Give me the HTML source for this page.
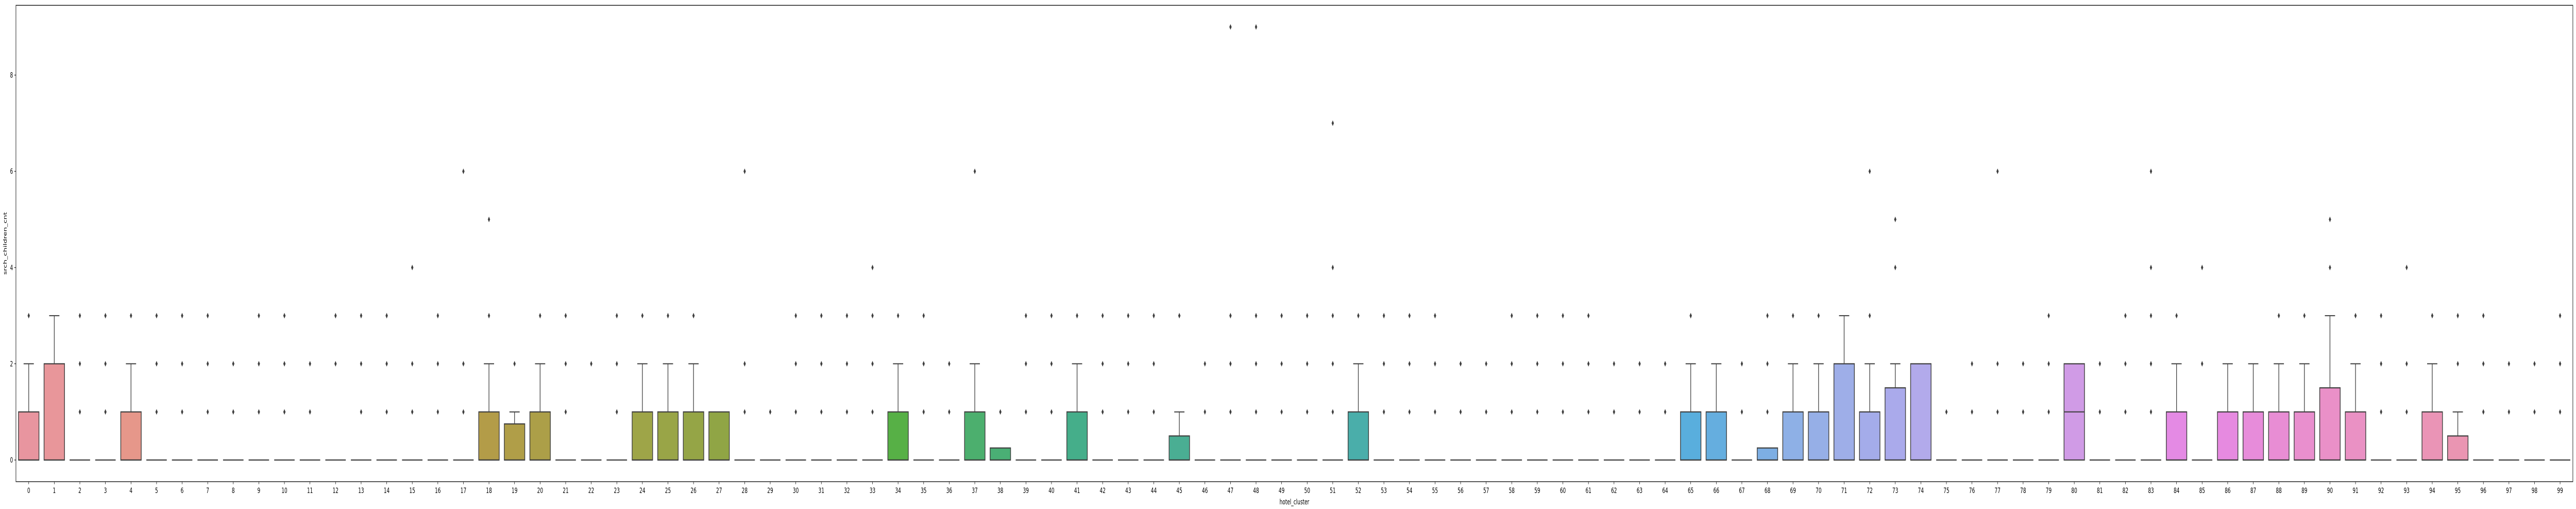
<!DOCTYPE html>
<html>
<head>
<meta charset="utf-8">
<meta name="viewport" content="width=7808, initial-scale=1">
<style>
html,body{margin:0;padding:0;background:#fff;width:100%;height:100%;overflow:hidden;}
svg{display:block;width:100vw;height:100vh;}
text{font-family:"DejaVu Sans","Liberation Sans",sans-serif;}
</style>
</head>
<body>
<svg id="chart" viewBox="0 0 7808 987" preserveAspectRatio="none" xmlns="http://www.w3.org/2000/svg"></svg>
<script>
const categories = Array.from({length:100}, (_, i) => String(i));
const q1Values = new Array(100).fill(0);
const q3Values = [1,2,0,0,1,0,0,0,0,0, 0,0,0,0,0,0,0,0,1,0.75, 1,0,0,0,1,1,1,1,0,0,
  0,0,0,0,1,0,0,1,0.25,0, 0,1,0,0,0,0.5,0,0,0,0, 0,0,1,0,0,0,0,0,0,0,
  0,0,0,0,0,1,1,0,0.25,1, 1,2,1,1.5,2,0,0,0,0,0, 2,0,0,0,1,0,1,1,1,1,
  1.5,1,0,0,1,0.5,0,0,0,0];
const medianValues = new Array(100).fill(0);
medianValues[80] = 1;
const whiskerHigh = [2,3,0,0,2,0,0,0,0,0, 0,0,0,0,0,0,0,0,2,1, 2,0,0,0,2,2,2,1,0,0,
  0,0,0,0,2,0,0,2,0.25,0, 0,2,0,0,0,1,0,0,0,0, 0,0,2,0,0,0,0,0,0,0,
  0,0,0,0,0,2,2,0,0.25,2, 2,3,2,2,2,0,0,0,0,0, 2,0,0,0,2,0,2,2,2,2,
  3,2,0,0,2,1,0,0,0,0];
const fliers = [[3],[],[1,2,3],[1,2,3],[3],[1,2,3],[1,2,3],[1,2,3],[1,2],[1,2,3],
  [1,2,3],[1,2],[2,3],[1,2,3],[1,2,3],[1,2,4],[1,2,3],[1,2,6],[3,5],[2],
  [3],[1,2,3],[2],[1,2,3],[3],[3],[3],[],[1,2,6],[1],
  [1,2,3],[1,2,3],[1,2,3],[1,2,3,4],[3],[1,2,3],[1,2],[6],[1],[1,2,3],
  [1,2,3],[3],[1,2,3],[1,2,3],[1,2,3],[3],[1,2],[1,2,3,9],[1,2,3,9],[1,2,3],
  [1,2,3],[1,2,3,4,7],[3],[1,2,3],[1,2,3],[1,2,3],[1,2],[1,2],[1,2,3],[1,2,3],
  [1,2,3],[1,2,3],[1,2],[1,2],[1,2],[3],[],[1,2],[1,2,3],[3],
  [3],[],[3,6],[4,5],[],[1],[1,2],[1,2,6],[1,2],[1,2,3],
  [],[1,2],[1,2,3],[1,2,3,4,6],[3],[2,4],[],[],[3],[3],
  [4,5],[3],[1,2,3],[1,2,4],[3],[2,3],[1,2,3],[1,2],[1,2],[1,2,3]];
const yTicks = [0,2,4,6,8];

const NS = "http://www.w3.org/2000/svg";
const svg = document.getElementById('chart');
const L = 48.3, R = 7798.5, T = 10.3, B = 934;
const step = (R - L) / categories.length;
function xScale(i){ return L + step * (i + 0.5); }
function yScale(v){ return 892 - 93.3 * v; }
const boxW = step * 0.8;
const edge = "#3f3f3f";

const keyIdx = [0,4,18,24,27,34,37,41,45,52,65,68,69,71,73,74,80,84,86,90,95,99];
const keyCol = ["#e8959f","#e6978a","#b39c48","#9ea548","#90a545","#57b046","#4caf6e","#45ae8a","#4aae93","#4aaeaa","#59aedd","#7daee3","#8eb0e6","#9eaee8","#aaaaeb","#b2aaeb","#d09be6","#e48ae4","#e68ae0","#ea90c8","#ea95b2","#e8959f"];
function hex(c){ return [1,3,5].map(k => parseInt(c.substr(k,2),16)); }
function colorFor(i){
  for (let k = 0; k < keyIdx.length - 1; k++){
    if (i >= keyIdx[k] && i <= keyIdx[k+1]){
      const t = (i - keyIdx[k]) / (keyIdx[k+1] - keyIdx[k]);
      const a = hex(keyCol[k]), b = hex(keyCol[k+1]);
      return "rgb(" + a.map((v,j) => Math.round(v + (b[j]-v)*t)).join(",") + ")";
    }
  }
  return keyCol[0];
}
function mk(tag, attrs){
  const e = document.createElementNS(NS, tag);
  for (const k in attrs) e.setAttribute(k, attrs[k]);
  return e;
}

const frame = mk('rect', {x:L, y:T, width:R-L, height:B-T, fill:'none', stroke:'#000', 'stroke-width':1.3});


svg.appendChild(frame);

yTicks.forEach(v => {
  const g = mk('g', {});
  
  
  g.appendChild(mk('line', {x1:L-5, x2:L, y1:yScale(v), y2:yScale(v), stroke:'#000', 'stroke-width':1.1}));
  const t = mk('text', {x:L-9, y:yScale(v)+5, 'text-anchor':'end', 'font-size':14, fill:'#000'});
  t.textContent = v;
  g.appendChild(t);
  svg.appendChild(g);
});

categories.forEach((c, i) => {
  const g = mk('g', {});
  
  
  const cx = xScale(i);
  g.appendChild(mk('line', {x1:cx, x2:cx, y1:B, y2:B+5, stroke:'#000', 'stroke-width':1.1}));
  const tl = mk('text', {x:cx, y:B+22, 'text-anchor':'middle', 'font-size':14, fill:'#000'});
  tl.textContent = c;
  g.appendChild(tl);
  const y1 = yScale(q1Values[i]), y3 = yScale(q3Values[i]);
  if (whiskerHigh[i] > q3Values[i]){
    g.appendChild(mk('line', {x1:cx, x2:cx, y1:y3, y2:yScale(whiskerHigh[i]), stroke:edge, 'stroke-width':2}));
    g.appendChild(mk('line', {x1:cx-boxW/4, x2:cx+boxW/4, y1:yScale(whiskerHigh[i]), y2:yScale(whiskerHigh[i]), stroke:edge, 'stroke-width':2}));
  }
  if (q3Values[i] > q1Values[i]){
    g.appendChild(mk('rect', {x:cx-boxW/2, y:y3, width:boxW, height:y1-y3, fill:colorFor(i), stroke:edge, 'stroke-width':2.2}));
  }
  g.appendChild(mk('line', {x1:cx-boxW/2, x2:cx+boxW/2, y1:yScale(medianValues[i]), y2:yScale(medianValues[i]), stroke:edge, 'stroke-width':2.2}));
  fliers[i].forEach(v => {
    const fy = yScale(v);
    const d = mk('path', {d:`M${cx} ${fy-5.5} L${cx+3.5} ${fy} L${cx} ${fy+5.5} L${cx-3.5} ${fy} Z`, fill:edge});
    
    
    g.appendChild(d);
  });
  svg.appendChild(g);
});

const xt = mk('text', {x:(L+R)/2, y:978, 'text-anchor':'middle', 'font-size':14, fill:'#000'});
xt.textContent = 'hotel_cluster';


svg.appendChild(xt);
const yt = mk('text', {x:0, y:0, 'text-anchor':'middle', 'font-size':14, fill:'#000', transform:'translate(20,472) rotate(-90)'});
yt.textContent = 'srch_children_cnt';


svg.appendChild(yt);
</script>
</body>
</html>
